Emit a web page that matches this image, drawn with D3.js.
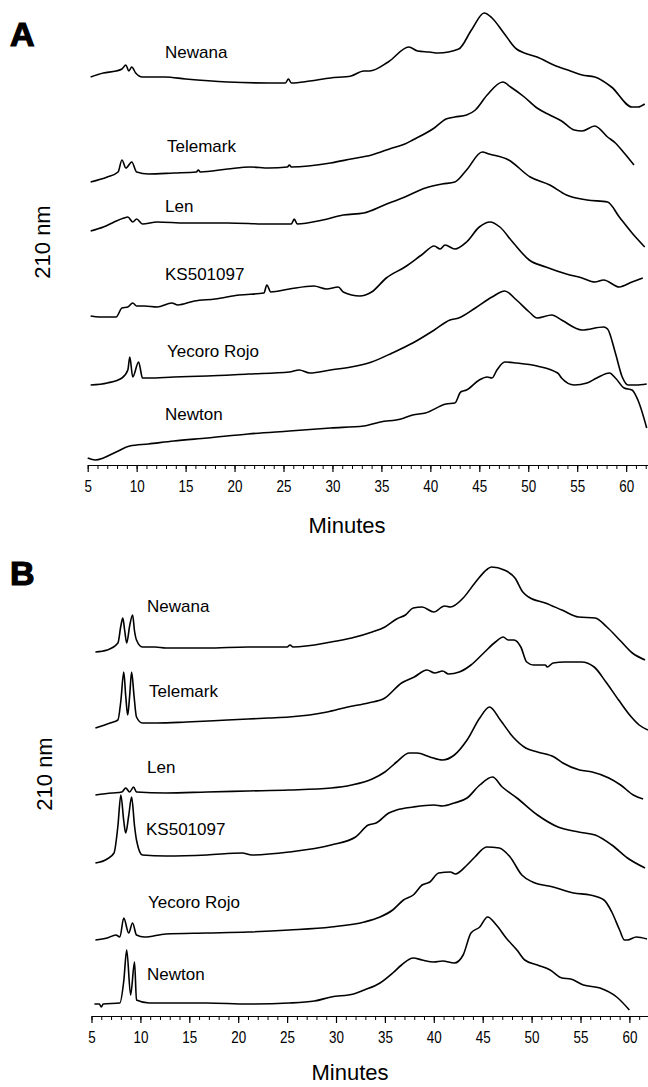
<!DOCTYPE html>
<html>
<head>
<meta charset="utf-8">
<script src="https://cdn.jsdelivr.net/npm/d3@7"></script>
<style>
  html, body { margin: 0; padding: 0; background: #fff; }
  svg { display: block; }
  text { font-family: "Liberation Sans", Arial, Helvetica, sans-serif; fill: #000; }
</style>
</head>
<body>
<svg id="chart" width="648" height="1087"></svg>
<script>
// ---------- Data (minute, stacked signal) ----------
const cultivars = ["Newana", "Telemark", "Len", "KS501097", "Yecoro Rojo", "Newton"];
const tickMinutes = [5, 10, 15, 20, 25, 30, 35, 40, 45, 50, 55, 60];

// Panel A traces
const newanaA = [[5.3,388],[6.6,392],[7.9,394],[8.5,396],[8.9,400],[9.2,394],[9.5,398],[9.9,392],[10.6,388],[12.9,388],[15.0,386],[19.3,383],[23.5,382],[25.2,382],[25.5,386],[25.8,382],[27.7,384],[29.8,387],[31.9,389],[33.2,394],[33.8,394],[35.7,403],[37.8,418],[38.7,414],[39.9,413],[40.8,412],[42.9,416],[44.2,435],[45.5,452],[46.3,447],[47.5,432],[48.8,416],[49.6,412],[50.9,408],[52.6,400],[54.3,394],[55.5,390],[56.8,388],[58.5,378],[60.6,358],[61.2,358],[61.9,361]];
const telemarkA = [[5.3,283],[7.0,288],[8.1,293],[8.5,305],[8.9,297],[9.5,303],[10.0,293],[11.2,291],[13.8,292],[16.1,293],[16.3,295],[16.5,293],[19.3,296],[21.6,298],[23.5,297],[25.4,298],[25.6,300],[25.8,298],[29.8,302],[31.9,306],[34.0,310],[36.1,317],[37.4,321],[38.2,325],[40.4,337],[41.6,346],[42.5,348],[43.7,350],[44.6,355],[45.8,370],[47.4,383],[48.2,378],[49.6,368],[50.9,357],[52.2,350],[53.4,344],[54.7,335],[55.5,334],[56.8,339],[58.1,328],[58.9,322],[59.8,312],[60.8,300]];
const lenA = [[5.3,234],[6.6,238],[7.7,243],[8.7,247],[9.1,248],[9.6,243],[10.0,246],[10.6,241],[12.1,243],[15.0,242],[19.3,242],[23.5,241],[25.8,241],[26.1,246],[26.4,241],[29.0,245],[31.1,250],[33.2,252],[35.3,260],[37.4,268],[39.5,277],[41.2,281],[42.5,283],[43.7,295],[45.3,313],[46.0,311],[48.0,305],[50.2,288],[52.2,280],[53.9,270],[56.0,265],[58.1,263],[59.3,248],[60.6,232],[61.9,218]];
const ksA = [[5.3,149],[6.2,148],[7.9,148],[8.5,157],[9.1,158],[9.6,162],[10.0,159],[10.8,159],[12.1,158],[13.6,162],[14.2,160],[15.9,164],[18.0,166],[20.5,170],[23.0,172],[23.3,180],[23.7,173],[25.6,176],[28.1,179],[29.4,176],[30.6,178],[31.1,173],[32.8,169],[34.0,173],[35.5,187],[37.4,198],[39.1,210],[40.4,219],[41.0,216],[41.5,220],[42.5,216],[43.7,223],[45.0,238],[46.1,243],[47.1,238],[48.4,223],[50.1,205],[51.8,198],[53.9,191],[55.5,187],[56.8,183],[57.7,185],[59.3,178],[60.6,183],[61.7,187]];
const yecoroA = [[5.3,80],[7.0,82],[8.5,87],[9.1,95],[9.3,108],[9.6,88],[10.2,103],[10.6,87],[11.2,87],[13.8,88],[17.2,89],[21.4,91],[25.6,93],[26.6,95],[27.7,92],[29.8,95],[31.9,98],[34.0,103],[36.1,112],[38.2,122],[40.4,135],[42.0,145],[42.9,147],[44.6,157],[46.3,168],[47.6,174],[48.8,165],[50.1,153],[50.9,147],[52.4,150],[53.4,145],[55.5,135],[57.7,138],[58.1,136],[58.9,112],[59.6,88],[60.2,80],[61.0,80],[62.1,81]];
const newtonA = [[5.0,7],[5.8,5],[6.6,7],[7.9,13],[9.3,19],[11.2,21],[13.8,24],[17.2,27],[21.4,31],[25.6,34],[29.8,37],[33.2,39],[34.9,43],[37.0,46],[38.2,50],[39.5,52],[41.6,61],[42.5,62],[43.1,73],[43.7,75],[45.0,85],[45.8,88],[46.3,87],[46.8,95],[47.6,103],[48.8,102],[50.9,99],[53.0,92],[53.4,87],[54.7,80],[56.0,82],[57.0,87],[58.3,92],[58.9,87],[59.8,77],[60.6,75],[61.2,65],[62.1,37]];

// Panel B traces
const newanaB = [[5.4,364],[6.6,366],[7.7,373],[8.0,390],[8.2,398],[8.4,385],[8.6,373],[8.9,390],[9.2,401],[9.4,385],[9.6,376],[10.2,369],[11.5,369],[12.6,368],[16.8,368],[21.0,369],[25.0,369],[25.3,371],[25.6,369],[29.5,374],[31.6,378],[33.7,384],[35.0,389],[36.2,397],[37.1,401],[37.9,408],[38.8,409],[40.0,404],[41.1,410],[41.7,409],[43.0,418],[44.2,433],[45.5,447],[45.9,449],[47.2,446],[48.3,438],[49.1,424],[49.7,419],[51.4,413],[53.1,406],[54.8,399],[56.5,398],[57.7,389],[59.0,376],[60.3,363],[61.6,356]];
const telemarkB = [[5.4,288],[6.9,293],[7.7,296],[8.0,315],[8.3,344],[8.5,320],[8.7,301],[8.9,320],[9.1,344],[9.35,320],[9.6,299],[10.2,293],[11.7,293],[14.7,294],[18.9,296],[23.1,298],[25.2,299],[29.1,304],[31.2,309],[33.3,313],[35.0,318],[36.7,333],[38.0,339],[39.3,346],[40.1,343],[40.9,345],[41.5,342],[42.6,344],[43.8,351],[45.1,363],[46.3,374],[47.1,379],[47.6,376],[48.2,376],[48.9,369],[49.5,354],[50.2,351],[51.4,351],[51.6,349],[52.2,353],[53.4,354],[55.1,354],[56.4,349],[57.6,334],[58.9,316],[60.2,299],[61.0,291],[61.9,286]];
const lenB = [[5.4,221],[7.1,223],[8.1,224],[8.5,228],[8.9,224],[9.3,229],[9.6,224],[12.6,223],[16.8,224],[21.0,225],[25.2,226],[29.5,228],[31.6,231],[33.7,237],[35.0,244],[36.2,254],[37.5,263],[38.3,263],[39.6,259],[40.9,256],[42.1,261],[43.4,276],[44.7,298],[45.7,309],[46.8,296],[48.1,279],[49.4,268],[50.6,264],[52.3,259],[53.2,253],[54.9,246],[56.2,244],[57.9,238],[59.1,231],[60.4,221],[61.4,217]];
const ksB = [[5.4,153],[6.6,157],[7.3,163],[7.7,190],[8.0,221],[8.3,195],[8.5,183],[8.8,200],[9.1,219],[9.4,190],[9.6,176],[10.2,161],[12.6,160],[16.8,161],[20.4,163],[21.4,161],[25.2,164],[29.5,171],[32.0,179],[33.3,191],[34.1,193],[35.4,203],[36.2,206],[37.9,209],[40.0,211],[40.9,210],[42.1,213],[43.4,218],[44.7,231],[46.0,239],[47.0,229],[48.5,218],[50.6,201],[52.7,189],[54.8,184],[56.5,181],[58.2,171],[59.8,158],[61.6,148]];
const yecoroB = [[5.4,76],[6.6,78],[7.5,81],[7.9,79],[8.3,98],[8.8,83],[9.2,93],[9.6,81],[10.4,79],[12.6,82],[16.8,83],[21.0,84],[25.2,86],[29.5,89],[32.9,94],[34.5,99],[35.8,106],[36.9,116],[37.9,121],[38.8,131],[39.6,134],[40.5,143],[41.7,144],[42.2,142],[43.4,151],[44.2,159],[45.4,169],[46.7,168],[47.8,159],[49.0,141],[50.1,134],[52.2,129],[54.3,123],[56.0,121],[57.4,116],[58.2,104],[59.0,86],[59.5,76],[59.8,76],[60.7,79],[61.8,77]];
const newtonB = [[5.3,12],[5.8,12],[6.0,9],[6.2,12],[7.9,13],[8.3,35],[8.6,66],[9.0,21],[9.4,54],[9.6,16],[10.9,13],[16.8,13],[21.0,12],[25.2,13],[27.8,15],[29.5,19],[31.8,22],[32.9,26],[34.5,33],[35.8,43],[36.7,51],[37.9,58],[38.8,56],[40.0,54],[40.9,55],[42.1,53],[43.0,61],[43.8,83],[44.7,89],[45.5,99],[46.4,91],[47.4,78],[48.5,66],[49.3,56],[50.6,51],[51.9,46],[53.1,38],[54.0,37],[55.3,31],[57.0,28],[58.7,19],[60.0,6]];

const tracesA = [newanaA, telemarkA, lenA, ksA, yecoroA, newtonA];
const tracesB = [newanaB, telemarkB, lenB, ksB, yecoroB, newtonB];

// ---------- Layout ----------
const svg = d3.select("#chart");

const panels = [
  {
    letter: "A", traces: tracesA,
    letterPos: [10, 46],
    x: d3.scaleLinear().domain([5, 62.2]).range([87.7, 87.7 + 57.2 * 9.79]),
    y: d3.scaleLinear().domain([0, 465]).range([465, 0]),
    axisY: 465,
    labelPos: [[165, 58], [167, 152], [165, 212], [165, 280], [167, 357], [165, 420]],
    yTitle: [50, 242], xTitle: [347, 533]
  },
  {
    letter: "B", traces: tracesB,
    letterPos: [10, 585],
    x: d3.scaleLinear().domain([5, 62.3]).range([91.5, 91.5 + 57.3 * 9.78]),
    y: d3.scaleLinear().domain([0, 476]).range([1016, 540]),
    axisY: 1016,
    labelPos: [[147, 612], [149, 697], [147, 773], [146, 835], [148, 908], [147, 980]],
    yTitle: [52, 774], xTitle: [350, 1080]
  }
];

panels.forEach(p => {
  const g = svg.append("g");

  // Panel letter
  g.append("text")
    .attr("x", p.letterPos[0]).attr("y", p.letterPos[1])
    .attr("font-size", 34).attr("font-weight", 900)
    .attr("stroke", "#000").attr("stroke-width", 1.2)
    .text(p.letter);

  // Traces
  const line = d3.line()
    .x(d => p.x(d[0]))
    .y(d => p.y(d[1]))
    .curve(d3.curveMonotoneX);

  g.selectAll("path.trace")
    .data(p.traces)
    .join("path")
    .attr("class", "trace")
    .attr("fill", "none")
    .attr("stroke", "#000")
    .attr("stroke-width", 1.6)
    .attr("stroke-linejoin", "round")
    .attr("d", line);

  // Trace labels
  g.selectAll("text.cult")
    .data(cultivars)
    .join("text")
    .attr("class", "cult")
    .attr("x", (d, i) => p.labelPos[i][0])
    .attr("y", (d, i) => p.labelPos[i][1])
    .attr("font-size", 17)
    .text(d => d);

  // Minor ticks (every minute)
  const minorTicks = d3.range(5, Math.floor(p.x.domain()[1]) + 1, 1);
  g.append("g")
    .attr("transform", `translate(0,${p.axisY})`)
    .call(d3.axisBottom(p.x).tickValues(minorTicks).tickSize(4).tickSizeOuter(0).tickFormat(""))
    .call(a => a.selectAll("path, line").attr("stroke", "#000").attr("stroke-width", 1));

  // Major ticks with labels
  const major = g.append("g")
    .attr("transform", `translate(0,${p.axisY})`)
    .call(d3.axisBottom(p.x).tickValues(tickMinutes).tickSize(7).tickSizeOuter(0).tickFormat(d3.format("d")));
  major.select(".domain").remove();
  major.selectAll("line").attr("stroke", "#000").attr("stroke-width", 1.2);
  major.selectAll("text")
    .attr("y", 27).attr("dy", null)
    .attr("font-size", 16)
    .attr("font-family", "'Liberation Sans', Arial, sans-serif")
    .attr("fill", "#000")
    .attr("transform", "scale(0.84,1)");

  // Axis titles
  g.append("text")
    .attr("x", p.xTitle[0]).attr("y", p.xTitle[1])
    .attr("text-anchor", "middle")
    .attr("font-size", 22)
    .text("Minutes");

  g.append("text")
    .attr("transform", `translate(${p.yTitle[0]},${p.yTitle[1]}) rotate(-90)`)
    .attr("text-anchor", "middle")
    .attr("font-size", 22)
    .text("210 nm");
});
</script>
</body>
</html>
